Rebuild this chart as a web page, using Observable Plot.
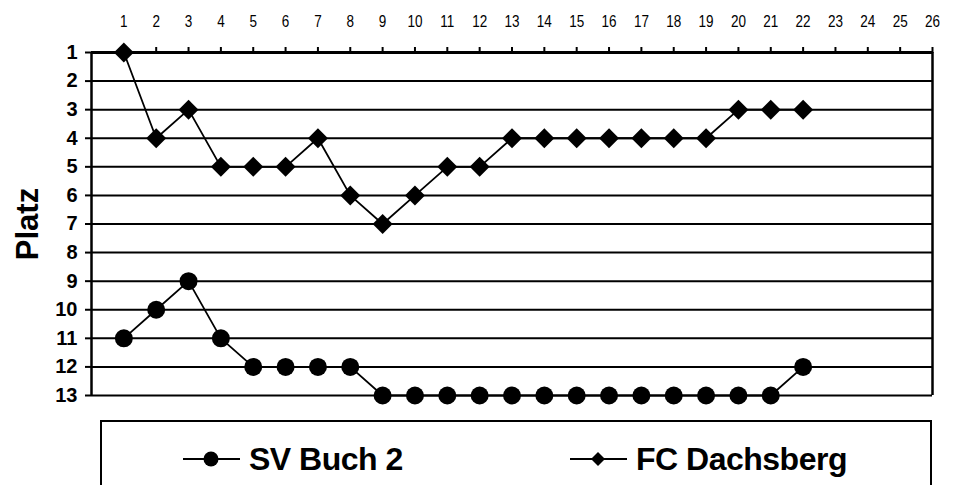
<!DOCTYPE html>
<html>
<head>
<meta charset="utf-8">
<script src="https://cdn.jsdelivr.net/npm/d3@7"></script>
<script src="https://cdn.jsdelivr.net/npm/@observablehq/plot@0.6"></script>
<style>
  html, body { margin: 0; padding: 0; background: #fff; }
  body { font-family: "Liberation Sans", Arial, sans-serif; color: #000; }
  #wrap { position: relative; width: 954px; height: 485px; overflow: hidden; }
  #legend { position: absolute; left: 100px; top: 420px; width: 832px; height: 90px;
            border: 2px solid #000; box-sizing: border-box; }
  .item { position: absolute; top: 20px; height: 34px; display: flex; align-items: center; }
  .item span { font-weight: bold; font-size: 32px; letter-spacing: -0.5px; margin-left: 9px; }
</style>
</head>
<body>
<div id="wrap">
  <div id="chart"></div>
  <div id="legend"></div>
</div>
<script>
const rounds = d3.range(1, 23);
const seriesNames = ["SV Buch 2", "FC Dachsberg"];
const buch = [11, 10, 9, 11, 12, 12, 12, 12, 13, 13, 13, 13, 13, 13, 13, 13, 13, 13, 13, 13, 13, 12];
const dachsberg = [1, 4, 3, 5, 5, 5, 4, 6, 7, 6, 5, 5, 4, 4, 4, 4, 4, 4, 4, 3, 3, 3];
const xTicks = d3.range(1, 27);
const yTicks = d3.range(1, 14);

const data = [
  ...rounds.map((r, i) => ({round: r, platz: buch[i], team: seriesNames[0]})),
  ...rounds.map((r, i) => ({round: r, platz: dachsberg[i], team: seriesNames[1]}))
];

const chart = Plot.plot({
  width: 954,
  height: 410,
  marginTop: 52,
  marginBottom: 15,
  marginLeft: 91,
  marginRight: 22,
  style: {fontFamily: "Liberation Sans, Arial, sans-serif", color: "#000", background: "#fff", overflow: "visible"},
  x: {domain: [0, 26]},
  y: {domain: [1, 13], reverse: true},
  marks: [
    Plot.ruleY(yTicks.filter(d => d > 1), {y: d => d, x1: 0, x2: 26, stroke: "#000", strokeWidth: 2}),
    Plot.ruleY([1], {x1: 0, x2: 26, stroke: "#000", strokeWidth: 3}),
    Plot.ruleX([0, 26], {y1: 1, y2: 13, stroke: "#000", strokeWidth: 2.5}),
    Plot.axisX({anchor: "top", ticks: xTicks, tickSize: 6, tickPadding: 20, fontSize: 13.5, label: null, strokeWidth: 2}),
    Plot.axisY({anchor: "left", ticks: yTicks, tickSize: 6, tickPadding: 8, fontSize: 20, fontWeight: "bold", label: null, strokeWidth: 2}),
    Plot.text(["Platz"], {frameAnchor: "left", textAnchor: "middle", dx: -63, rotate: -90, fontSize: 31, fontWeight: "bold", fill: "#000"}),
    Plot.line(data, {x: "round", y: "platz", z: "team", stroke: "#000", strokeWidth: 1.8}),
    Plot.dot(data.filter(d => d.team === seriesNames[0]), {x: "round", y: "platz", r: 9, fill: "#000", stroke: "none"}),
    Plot.dot(data.filter(d => d.team === seriesNames[1]), {x: "round", y: "platz", r: 9, symbol: "diamond2", fill: "#000", stroke: "none"})
  ]
});
document.getElementById("chart").appendChild(chart);

// x tick labels in the original are narrow and tall: stretch them vertically
chart.querySelectorAll('g[aria-label="x-axis tick label"] text').forEach(t => {
  const tr = t.getAttribute("transform") || "";
  t.setAttribute("transform", tr + " scale(1,1.25)");
});

// legend
const legend = document.getElementById("legend");
const items = [
  {name: seriesNames[0], left: 81, sym: "circle"},
  {name: seriesNames[1], left: 468, sym: "diamond"}
];
for (const it of items) {
  const div = document.createElement("div");
  div.className = "item";
  div.style.left = it.left + "px";
  const shape = it.sym === "circle"
    ? '<circle cx="28" cy="17" r="7.5" fill="#000"/>'
    : '<path d="M28 10 L35 17 L28 24 L21 17 Z" fill="#000"/>';
  div.innerHTML = '<svg width="57" height="34"><line x1="0" y1="17" x2="57" y2="17" stroke="#000" stroke-width="2"/>' + shape + '</svg><span>' + it.name + '</span>';
  legend.appendChild(div);
}
</script>
</body>
</html>
